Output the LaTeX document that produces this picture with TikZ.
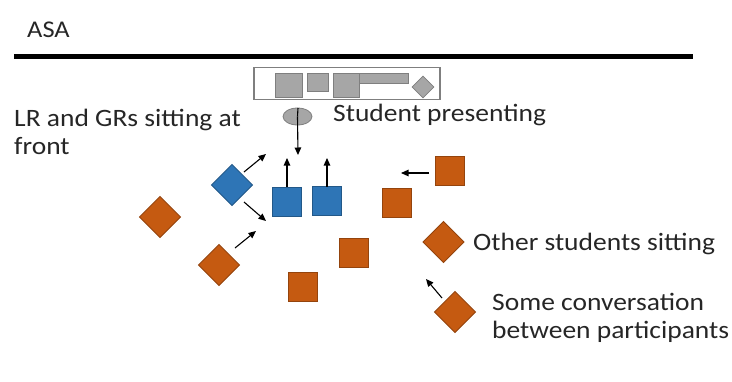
\documentclass[tikz,border=0pt]{standalone}
\usepackage{fontspec}
\setmainfont{Carlito}
\usetikzlibrary{shapes.geometric,arrows.meta}
\definecolor{seatblue}{HTML}{2E75B6}
\definecolor{seatorange}{HTML}{C55A11}
\definecolor{screengray}{HTML}{A6A6A6}
\definecolor{screenline}{HTML}{7F7F7F}
\definecolor{inktext}{HTML}{262626}
\begin{document}
\begin{tikzpicture}[x=1pt,y=-1pt,
  seatsq/.style={rectangle,draw=#1!75!black,fill=#1,line width=0.8pt,
    minimum size=29pt,inner sep=0pt,outer sep=0pt},
  seatdm/.style={diamond,draw=#1!75!black,fill=#1,line width=0.8pt,
    minimum size=41pt,inner sep=0pt,outer sep=0pt},
  gray box/.style={rectangle,draw=screenline,fill=screengray,line width=0.8pt,
    inner sep=0pt,outer sep=0pt},
  arr/.style={-{Triangle[length=7.5pt,width=6.5pt]},line width=1.1pt,draw=black},
  lbl/.style={font=\fontsize{25}{28}\selectfont,text=inktext,inner sep=0pt,
    anchor=base west,align=left,xscale=1.1}]
\useasboundingbox (0,0) rectangle (732,381);

% title and front wall
\node[lbl,font=\fontsize{24}{26}\selectfont] (asa) at (27,37) {ASA};
\coordinate (wallL) at (14,56.5);
\coordinate (wallR) at (693,56.5);
\draw[line width=5.5pt] (wallL) -- (wallR);

% projected screen with its contents
\node[rectangle,draw=screenline,fill=white,line width=1.5pt,minimum width=186pt,
  minimum height=32pt,inner sep=0pt] (screen) at (347,83.5) {};
\node[gray box,minimum width=27pt,minimum height=24pt] (s1) at (288.5,85) {};
\node[gray box,minimum width=21pt,minimum height=18pt] (s2) at (317.5,82) {};
\node[gray box,minimum width=26pt,minimum height=24pt] (s3) at (346,85) {};
\node[gray box,minimum width=49pt,minimum height=10pt] (s4) at (383.5,78) {};
\node[diamond,draw=screenline,fill=screengray,line width=0.8pt,minimum size=22pt,
  inner sep=0pt] (s5) at (423,87) {};

% presenter
\node[ellipse,draw=screenline,fill=screengray,line width=0.8pt,minimum width=29pt,
  minimum height=17pt,inner sep=0pt] (presenter) at (297.5,116.5) {};
\coordinate (presenterTop) at (298,108);
\coordinate (presenterTo) at (298,155);
\draw[line width=1.1pt] (presenterTop) -- (presenter.center);
\draw[arr] (presenter.center) -- (presenterTo);
\node[lbl] (presenting) at (333,121) {Student presenting};

% LR and GRs at the front
\node[seatdm=seatblue] (lr) at (232,185) {};
\node[seatsq=seatblue] (gr1) at (287,201.5) {};
\node[seatsq=seatblue] (gr2) at (327,201) {};
\node[lbl] (frontlbl) at (14,154) {LR and GRs sitting at\\front};

\coordinate (lrFrom1) at (244,172);
\coordinate (lrFrom2) at (244,202);
\coordinate (lrTo1) at (266,154);
\coordinate (lrTo2) at (266,221);
\draw[arr] (lrFrom1) -- (lrTo1);
\draw[arr] (lrFrom2) -- (lrTo2);
\coordinate (gr1To) at (287,158);
\coordinate (gr2To) at (327,158);
\draw[arr] (gr1.north) -- (gr1To);
\draw[arr] (gr2.north) -- (gr2To);

% other students
\node[seatdm=seatorange] (o1) at (160,217) {};
\node[seatdm=seatorange] (o2) at (219,265) {};
\node[seatsq=seatorange] (o3) at (450,170.5) {};
\node[seatsq=seatorange] (o4) at (396.5,202.5) {};
\node[seatdm=seatorange] (o5) at (443.5,242) {};
\node[seatsq=seatorange] (o6) at (354,252.5) {};
\node[seatsq=seatorange] (o7) at (303,287) {};
\node[seatdm=seatorange] (o8) at (455,312) {};

\coordinate (o2From) at (235,248);
\coordinate (o2To) at (256,231);
\draw[arr] (o2From) -- (o2To);
\coordinate (o3From) at (429,173);
\coordinate (o3To) at (401,173);
\draw[arr] (o3From) -- (o3To);
\coordinate (o8From) at (442,298);
\coordinate (o8To) at (426,279);
\draw[arr] (o8From) -- (o8To);

\node[lbl] (otherlbl) at (473,250) {Other students sitting};
\node[lbl] (convlbl) at (492,338) {Some conversation\\between participants};
\end{tikzpicture}
\end{document}
